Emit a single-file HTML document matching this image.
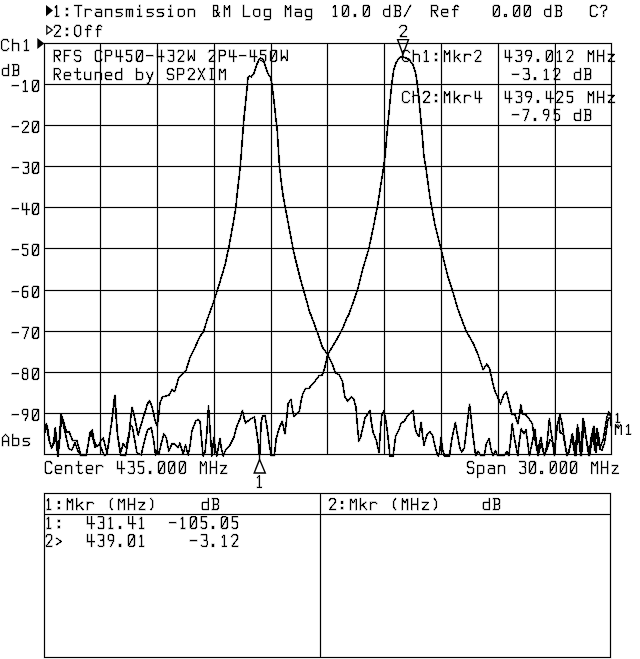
<!DOCTYPE html>
<html><head><meta charset="utf-8"><title>Network analyzer plot</title>
<style>html,body{margin:0;padding:0;background:#fff;font-family:"Liberation Sans",sans-serif}svg{display:block}</style></head>
<body>
<svg width="640" height="659" viewBox="0 0 640 659">
<rect width="640" height="659" fill="#fff"/>
<path d="M44.50,43.50 V454.50M100.50,43.50 V454.50M157.50,43.50 V454.50M214.50,43.50 V454.50M271.50,43.50 V454.50M327.50,43.50 V454.50M384.50,43.50 V454.50M441.50,43.50 V454.50M498.50,43.50 V454.50M555.00,43.50 V454.50M611.50,43.50 V454.50M44.50,43.50 H611.50M44.50,84.50 H611.50M44.50,125.50 H611.50M44.50,166.50 H611.50M44.50,207.50 H611.50M44.50,248.50 H611.50M44.50,290.50 H611.50M44.50,331.50 H611.50M44.50,372.50 H611.50M44.50,413.50 H611.50M44.50,454.50 H611.50" fill="none" stroke="#000" stroke-opacity="0.18" stroke-width="2.2" stroke-linecap="square"/>
<path d="M44.50,43.50 V454.50M100.50,43.50 V454.50M157.50,43.50 V454.50M214.50,43.50 V454.50M271.50,43.50 V454.50M327.50,43.50 V454.50M384.50,43.50 V454.50M441.50,43.50 V454.50M498.50,43.50 V454.50M555.00,43.50 V454.50M611.50,43.50 V454.50M44.50,43.50 H611.50M44.50,84.50 H611.50M44.50,125.50 H611.50M44.50,166.50 H611.50M44.50,207.50 H611.50M44.50,248.50 H611.50M44.50,290.50 H611.50M44.50,331.50 H611.50M44.50,372.50 H611.50M44.50,413.50 H611.50M44.50,454.50 H611.50" fill="none" stroke="#000" stroke-width="1" stroke-linecap="square" shape-rendering="crispEdges"/>
<path d="M44.5,493.5 H610.5 V657.5 H44.5 Z M44.5,514.5 H610.5 M320.5,493.5 V657.5" fill="none" stroke="#000" stroke-opacity="0.18" stroke-width="2.2"/>
<path d="M44.5,493.5 H610.5 V657.5 H44.5 Z M44.5,514.5 H610.5 M320.5,493.5 V657.5" fill="none" stroke="#000" stroke-width="1" shape-rendering="crispEdges"/>
<path d="M44.8,432.5 L46.2,423.8 L47.5,427.5 L50.0,443.8 L51.9,446.9 L53.8,441.2 L55.2,428.0 L56.2,441.2 L57.9,456.0 L59.4,438.8 L61.0,414.4 L63.1,420.0 L65.6,428.8 L66.5,432.0 L69.4,432.0 L72.5,440.6 L76.9,440.6 L78.8,447.5 L80.6,454.4 L86.2,455.0 L88.1,445.0 L90.0,432.5 L92.2,430.0 L93.8,438.8 L95.6,445.0 L98.8,445.6 L101.2,440.0 L103.1,438.0 L105.0,445.0 L106.9,452.5 L108.1,447.5 L111.9,420.0 L115.0,395.6 L117.5,435.0 L120.6,455.0 L125.6,455.6 L128.8,437.5 L130.6,418.8 L132.2,407.5 L134.4,416.2 L138.1,435.0 L142.5,420.0 L147.5,403.8 L149.4,400.6 L151.9,406.2 L155.0,420.0 L157.2,426.2 L158.8,415.0 L160.0,402.5 L162.5,396.9 L168.8,395.3 L172.2,389.4 L174.7,391.6 L178.8,377.5 L182.5,373.8 L186.2,370.0 L190.0,357.5 L195.0,347.5 L200.0,336.2 L203.2,332.5 L207.5,318.8 L212.5,305.0 L217.5,290.0 L225.0,265.0 L228.8,247.5 L233.8,220.0 L236.0,206.2 L237.0,195.0 L238.8,180.0 L240.3,166.3 L243.8,120.0 L245.6,102.5 L247.5,83.8 L247.9,77.5 L249.4,76.2 L251.2,76.9 L253.8,73.8 L256.2,66.2 L258.8,60.0 L260.6,58.1 L262.5,58.8 L263.8,61.2 L266.2,68.8 L268.1,73.8 L270.6,77.5 L271.9,83.8 L273.1,93.8 L275.0,110.0 L276.0,120.0 L277.2,130.0 L279.5,166.3 L281.0,180.0 L283.0,195.0 L285.0,206.2 L290.0,232.5 L293.8,252.5 L300.0,277.5 L305.0,295.0 L309.8,312.5 L311.2,315.6 L317.5,332.8 L322.2,346.9 L327.7,354.7 L331.6,362.5 L335.5,372.7 L339.4,375.0 L342.5,381.2 L344.0,392.2 L345.0,396.9 L347.8,401.2 L351.2,396.9 L353.8,398.8 L356.0,407.5 L356.9,420.0 L358.8,441.2 L360.6,437.5 L365.0,418.1 L370.0,410.6 L371.2,421.2 L373.1,432.5 L376.2,440.0 L379.0,452.5 L380.6,427.5 L381.9,415.0 L383.8,411.2 L385.6,418.8 L387.5,432.5 L390.0,456.0 L393.1,456.0 L395.6,436.2 L398.8,430.0 L401.2,423.1 L404.4,421.2 L407.5,415.6 L413.1,410.6 L415.0,427.5 L416.9,433.8 L419.0,436.0 L421.2,422.5 L422.5,435.0 L424.0,445.0 L426.9,435.0 L430.0,431.9 L432.5,435.0 L435.6,448.8 L438.1,456.0 L439.8,451.2 L441.0,437.5 L442.5,448.8 L444.4,456.0 L449.4,456.0 L451.9,438.8 L455.4,422.5 L457.5,435.0 L460.0,448.8 L461.9,451.9 L464.4,447.5 L466.9,426.2 L469.6,404.4 L471.2,418.8 L473.1,436.2 L475.6,455.6 L478.1,451.2 L480.6,455.6 L484.4,455.6 L486.2,443.8 L489.1,438.8 L491.2,450.0 L493.1,455.6 L495.4,450.6 L497.5,455.6 L503.8,455.6 L506.9,451.9 L508.8,455.6 L510.6,441.2 L512.2,423.8 L513.8,435.0 L517.8,455.6 L519.4,441.2 L521.2,428.8 L524.0,433.8 L526.0,430.0 L527.5,441.2 L529.4,455.6 L531.9,443.8 L535.0,429.4 L536.2,441.2 L538.1,455.6 L541.0,443.8 L544.4,455.6 L547.5,447.5 L550.0,440.0 L552.5,441.2 L554.4,455.6 L556.2,428.8 L558.8,418.8 L560.0,432.5 L563.1,433.8 L566.9,455.6 L570.0,447.5 L571.9,435.0 L573.5,447.0 L575.0,455.6 L577.5,425.0 L580.6,455.6 L583.1,418.8 L585.6,435.0 L588.8,455.6 L591.2,437.5 L593.8,426.2 L594.4,450.0 L596.9,428.8 L598.8,445.0 L600.6,446.2 L603.1,440.0 L606.9,417.5 L608.8,411.9 L610.6,420.0 L611.5,427.5M44.8,430.0 L46.5,425.0 L49.0,440.0 L51.5,448.0 L54.0,443.0 L55.5,430.0 L57.0,443.0 L58.0,456.0 L60.0,437.0 L61.5,417.0 L62.5,421.0 L68.8,448.8 L71.9,450.0 L75.0,442.5 L77.5,450.0 L80.6,455.6 L86.2,455.6 L89.4,437.5 L91.2,432.5 L95.0,447.0 L100.0,445.0 L101.9,450.0 L104.4,455.6 L106.9,454.4 L112.0,420.0 L114.5,397.0 L117.5,435.0 L120.6,453.0 L123.1,443.8 L126.0,447.5 L128.8,435.0 L130.6,425.0 L132.5,427.5 L136.9,452.5 L141.2,455.0 L144.4,441.2 L147.5,430.0 L151.2,427.5 L153.8,441.2 L155.6,455.0 L157.2,450.0 L158.8,454.4 L161.2,443.8 L163.8,433.8 L166.2,437.5 L168.8,451.2 L171.9,443.8 L174.4,443.8 L178.1,447.5 L180.0,443.1 L183.1,453.8 L185.6,445.0 L188.1,455.0 L190.0,446.2 L191.9,431.2 L195.6,421.2 L198.1,419.4 L200.0,421.2 L201.2,435.0 L203.1,456.0 L205.0,452.5 L206.9,432.5 L208.5,406.2 L210.0,428.8 L211.9,456.0 L213.8,437.5 L215.6,450.0 L216.9,456.0 L218.8,445.0 L220.0,438.8 L221.2,447.5 L223.1,456.0 L225.6,450.0 L230.0,445.0 L233.8,437.5 L236.9,426.2 L240.0,418.8 L242.5,410.6 L244.0,417.5 L245.6,423.1 L250.0,419.4 L254.4,416.9 L256.2,428.8 L258.1,441.2 L259.6,459.0 L261.2,422.5 L262.5,416.2 L265.0,415.6 L266.9,426.2 L270.0,448.8 L271.2,455.6 L274.4,455.6 L276.2,438.8 L279.4,427.5 L282.2,421.2 L285.0,433.8 L286.9,416.2 L288.1,403.8 L291.0,399.4 L292.5,410.0 L294.0,416.2 L299.4,411.2 L301.2,400.0 L303.1,393.1 L305.6,388.5 L308.9,388.3 L314.4,382.0 L319.0,375.8 L322.2,375.0 L324.5,368.8 L327.7,354.7 L332.3,346.9 L337.0,339.0 L342.5,328.9 L347.2,317.2 L348.8,314.8 L357.5,290.0 L362.5,270.0 L368.8,248.8 L373.8,225.0 L377.5,206.2 L381.2,182.5 L383.8,166.2 L385.2,155.0 L386.5,139.0 L389.7,105.0 L391.8,83.7 L393.5,71.0 L396.1,62.5 L399.3,57.8 L402.5,56.5 L408.8,59.3 L413.0,64.6 L415.6,73.0 L417.3,83.7 L420.5,115.5 L422.6,139.0 L423.8,155.0 L426.2,170.0 L430.0,197.5 L435.0,225.0 L441.2,250.0 L447.5,275.0 L453.8,295.0 L457.8,308.8 L466.2,331.2 L473.8,344.4 L478.4,355.6 L483.1,369.7 L486.9,364.0 L489.7,368.8 L492.5,381.9 L495.0,391.2 L500.6,403.8 L503.8,394.4 L506.5,391.9 L508.8,401.2 L511.9,414.4 L515.0,415.0 L517.8,423.8 L519.4,415.0 L520.9,405.0 L522.5,413.8 L526.2,415.0 L529.4,419.4 L532.5,423.8 L533.1,430.0 L535.0,440.0 L537.5,452.5 L539.4,443.8 L541.0,437.5 L542.5,447.5 L544.4,455.0 L546.9,445.0 L549.4,418.8 L550.6,428.8 L552.5,440.0 L554.4,455.0 L556.2,435.0 L558.1,421.2 L560.0,415.0 L561.9,422.5 L563.8,435.0 L566.9,455.0 L568.8,452.5 L572.5,434.0 L575.8,455.6 L578.3,428.0 L581.5,455.6 L584.0,422.0 L586.5,440.0 L589.5,455.6 L592.0,441.0 L594.5,429.0 L596.0,452.0 L598.3,433.0 L600.0,449.0 L602.0,450.0 L604.5,443.0 L607.8,421.0 L609.5,413.0 L610.9,419.0 L611.5,426.0" fill="none" stroke="#000" stroke-opacity="0.2" stroke-width="2.6" stroke-linejoin="round"/>
<path d="M44.8,432.5 L46.2,423.8 L47.5,427.5 L50.0,443.8 L51.9,446.9 L53.8,441.2 L55.2,428.0 L56.2,441.2 L57.9,456.0 L59.4,438.8 L61.0,414.4 L63.1,420.0 L65.6,428.8 L66.5,432.0 L69.4,432.0 L72.5,440.6 L76.9,440.6 L78.8,447.5 L80.6,454.4 L86.2,455.0 L88.1,445.0 L90.0,432.5 L92.2,430.0 L93.8,438.8 L95.6,445.0 L98.8,445.6 L101.2,440.0 L103.1,438.0 L105.0,445.0 L106.9,452.5 L108.1,447.5 L111.9,420.0 L115.0,395.6 L117.5,435.0 L120.6,455.0 L125.6,455.6 L128.8,437.5 L130.6,418.8 L132.2,407.5 L134.4,416.2 L138.1,435.0 L142.5,420.0 L147.5,403.8 L149.4,400.6 L151.9,406.2 L155.0,420.0 L157.2,426.2 L158.8,415.0 L160.0,402.5 L162.5,396.9 L168.8,395.3 L172.2,389.4 L174.7,391.6 L178.8,377.5 L182.5,373.8 L186.2,370.0 L190.0,357.5 L195.0,347.5 L200.0,336.2 L203.2,332.5 L207.5,318.8 L212.5,305.0 L217.5,290.0 L225.0,265.0 L228.8,247.5 L233.8,220.0 L236.0,206.2 L237.0,195.0 L238.8,180.0 L240.3,166.3 L243.8,120.0 L245.6,102.5 L247.5,83.8 L247.9,77.5 L249.4,76.2 L251.2,76.9 L253.8,73.8 L256.2,66.2 L258.8,60.0 L260.6,58.1 L262.5,58.8 L263.8,61.2 L266.2,68.8 L268.1,73.8 L270.6,77.5 L271.9,83.8 L273.1,93.8 L275.0,110.0 L276.0,120.0 L277.2,130.0 L279.5,166.3 L281.0,180.0 L283.0,195.0 L285.0,206.2 L290.0,232.5 L293.8,252.5 L300.0,277.5 L305.0,295.0 L309.8,312.5 L311.2,315.6 L317.5,332.8 L322.2,346.9 L327.7,354.7 L331.6,362.5 L335.5,372.7 L339.4,375.0 L342.5,381.2 L344.0,392.2 L345.0,396.9 L347.8,401.2 L351.2,396.9 L353.8,398.8 L356.0,407.5 L356.9,420.0 L358.8,441.2 L360.6,437.5 L365.0,418.1 L370.0,410.6 L371.2,421.2 L373.1,432.5 L376.2,440.0 L379.0,452.5 L380.6,427.5 L381.9,415.0 L383.8,411.2 L385.6,418.8 L387.5,432.5 L390.0,456.0 L393.1,456.0 L395.6,436.2 L398.8,430.0 L401.2,423.1 L404.4,421.2 L407.5,415.6 L413.1,410.6 L415.0,427.5 L416.9,433.8 L419.0,436.0 L421.2,422.5 L422.5,435.0 L424.0,445.0 L426.9,435.0 L430.0,431.9 L432.5,435.0 L435.6,448.8 L438.1,456.0 L439.8,451.2 L441.0,437.5 L442.5,448.8 L444.4,456.0 L449.4,456.0 L451.9,438.8 L455.4,422.5 L457.5,435.0 L460.0,448.8 L461.9,451.9 L464.4,447.5 L466.9,426.2 L469.6,404.4 L471.2,418.8 L473.1,436.2 L475.6,455.6 L478.1,451.2 L480.6,455.6 L484.4,455.6 L486.2,443.8 L489.1,438.8 L491.2,450.0 L493.1,455.6 L495.4,450.6 L497.5,455.6 L503.8,455.6 L506.9,451.9 L508.8,455.6 L510.6,441.2 L512.2,423.8 L513.8,435.0 L517.8,455.6 L519.4,441.2 L521.2,428.8 L524.0,433.8 L526.0,430.0 L527.5,441.2 L529.4,455.6 L531.9,443.8 L535.0,429.4 L536.2,441.2 L538.1,455.6 L541.0,443.8 L544.4,455.6 L547.5,447.5 L550.0,440.0 L552.5,441.2 L554.4,455.6 L556.2,428.8 L558.8,418.8 L560.0,432.5 L563.1,433.8 L566.9,455.6 L570.0,447.5 L571.9,435.0 L573.5,447.0 L575.0,455.6 L577.5,425.0 L580.6,455.6 L583.1,418.8 L585.6,435.0 L588.8,455.6 L591.2,437.5 L593.8,426.2 L594.4,450.0 L596.9,428.8 L598.8,445.0 L600.6,446.2 L603.1,440.0 L606.9,417.5 L608.8,411.9 L610.6,420.0 L611.5,427.5" fill="none" stroke="#000" stroke-width="1.5" stroke-linejoin="round" shape-rendering="crispEdges"/>
<path d="M44.8,430.0 L46.5,425.0 L49.0,440.0 L51.5,448.0 L54.0,443.0 L55.5,430.0 L57.0,443.0 L58.0,456.0 L60.0,437.0 L61.5,417.0 L62.5,421.0 L68.8,448.8 L71.9,450.0 L75.0,442.5 L77.5,450.0 L80.6,455.6 L86.2,455.6 L89.4,437.5 L91.2,432.5 L95.0,447.0 L100.0,445.0 L101.9,450.0 L104.4,455.6 L106.9,454.4 L112.0,420.0 L114.5,397.0 L117.5,435.0 L120.6,453.0 L123.1,443.8 L126.0,447.5 L128.8,435.0 L130.6,425.0 L132.5,427.5 L136.9,452.5 L141.2,455.0 L144.4,441.2 L147.5,430.0 L151.2,427.5 L153.8,441.2 L155.6,455.0 L157.2,450.0 L158.8,454.4 L161.2,443.8 L163.8,433.8 L166.2,437.5 L168.8,451.2 L171.9,443.8 L174.4,443.8 L178.1,447.5 L180.0,443.1 L183.1,453.8 L185.6,445.0 L188.1,455.0 L190.0,446.2 L191.9,431.2 L195.6,421.2 L198.1,419.4 L200.0,421.2 L201.2,435.0 L203.1,456.0 L205.0,452.5 L206.9,432.5 L208.5,406.2 L210.0,428.8 L211.9,456.0 L213.8,437.5 L215.6,450.0 L216.9,456.0 L218.8,445.0 L220.0,438.8 L221.2,447.5 L223.1,456.0 L225.6,450.0 L230.0,445.0 L233.8,437.5 L236.9,426.2 L240.0,418.8 L242.5,410.6 L244.0,417.5 L245.6,423.1 L250.0,419.4 L254.4,416.9 L256.2,428.8 L258.1,441.2 L259.6,459.0 L261.2,422.5 L262.5,416.2 L265.0,415.6 L266.9,426.2 L270.0,448.8 L271.2,455.6 L274.4,455.6 L276.2,438.8 L279.4,427.5 L282.2,421.2 L285.0,433.8 L286.9,416.2 L288.1,403.8 L291.0,399.4 L292.5,410.0 L294.0,416.2 L299.4,411.2 L301.2,400.0 L303.1,393.1 L305.6,388.5 L308.9,388.3 L314.4,382.0 L319.0,375.8 L322.2,375.0 L324.5,368.8 L327.7,354.7 L332.3,346.9 L337.0,339.0 L342.5,328.9 L347.2,317.2 L348.8,314.8 L357.5,290.0 L362.5,270.0 L368.8,248.8 L373.8,225.0 L377.5,206.2 L381.2,182.5 L383.8,166.2 L385.2,155.0 L386.5,139.0 L389.7,105.0 L391.8,83.7 L393.5,71.0 L396.1,62.5 L399.3,57.8 L402.5,56.5 L408.8,59.3 L413.0,64.6 L415.6,73.0 L417.3,83.7 L420.5,115.5 L422.6,139.0 L423.8,155.0 L426.2,170.0 L430.0,197.5 L435.0,225.0 L441.2,250.0 L447.5,275.0 L453.8,295.0 L457.8,308.8 L466.2,331.2 L473.8,344.4 L478.4,355.6 L483.1,369.7 L486.9,364.0 L489.7,368.8 L492.5,381.9 L495.0,391.2 L500.6,403.8 L503.8,394.4 L506.5,391.9 L508.8,401.2 L511.9,414.4 L515.0,415.0 L517.8,423.8 L519.4,415.0 L520.9,405.0 L522.5,413.8 L526.2,415.0 L529.4,419.4 L532.5,423.8 L533.1,430.0 L535.0,440.0 L537.5,452.5 L539.4,443.8 L541.0,437.5 L542.5,447.5 L544.4,455.0 L546.9,445.0 L549.4,418.8 L550.6,428.8 L552.5,440.0 L554.4,455.0 L556.2,435.0 L558.1,421.2 L560.0,415.0 L561.9,422.5 L563.8,435.0 L566.9,455.0 L568.8,452.5 L572.5,434.0 L575.8,455.6 L578.3,428.0 L581.5,455.6 L584.0,422.0 L586.5,440.0 L589.5,455.6 L592.0,441.0 L594.5,429.0 L596.0,452.0 L598.3,433.0 L600.0,449.0 L602.0,450.0 L604.5,443.0 L607.8,421.0 L609.5,413.0 L610.9,419.0 L611.5,426.0" fill="none" stroke="#000" stroke-width="1.5" stroke-linejoin="round" shape-rendering="crispEdges"/>
<path d="M46,5 L53,10.6 L46,16.2 Z" fill="#000"/>
<path d="M46.8,26 L52.3,30 L46.8,34 Z" fill="none" stroke="#000" stroke-width="1.2"/>
<path d="M37.3,37.9 L44.3,43.4 L37.3,49 Z" fill="#000"/>
<path d="M397.6,39.6 H408.5 L403,54.4 Z" fill="none" stroke="#000" stroke-width="1.4"/>
<path d="M259.6,459.4 L265.3,473 H254.2 Z" fill="none" stroke="#000" stroke-width="1.4"/>
<circle cx="608.8" cy="416.5" r="1.5" fill="#fff" stroke="#000" stroke-width="1"/>
<circle cx="617.6" cy="426.2" r="1.4" fill="#fff" stroke="#000" stroke-width="1"/>
<path d="M55.28,7.42 L56.96,5.50 L56.96,16.30M55.28,16.30 L58.88,16.30M66.32,15.58 L67.52,15.58 L67.52,14.38 L66.32,14.38ZM66.32,9.82 L67.52,9.82 L67.52,8.62 L66.32,8.62ZM74.84,5.50 L81.44,5.50M78.14,5.50 L78.14,16.30M85.16,9.10 L85.16,16.30M85.16,10.90 L86.96,9.10 L89.96,9.10 L91.16,10.30M96.08,9.10 L100.28,9.10 L101.48,10.30 L101.48,16.30M101.48,12.10 L96.68,12.10 L95.48,13.30 L95.48,15.10 L96.68,16.30 L101.48,16.30M105.80,9.10 L105.80,16.30M105.80,10.30 L107.00,9.10 L110.60,9.10 L111.80,10.30 L111.80,16.30M122.12,9.10 L117.32,9.10 L116.12,10.30 L116.12,11.50 L117.32,12.70 L120.92,12.70 L122.12,13.90 L122.12,15.10 L120.92,16.30 L116.12,16.30M126.44,9.10 L126.44,16.30M126.44,9.70 L127.04,9.10 L128.84,9.10 L129.44,9.70 L129.44,16.30M129.44,9.70 L130.04,9.10 L131.84,9.10 L132.44,9.70 L132.44,16.30M139.76,6.46 L139.76,5.50M137.96,9.10 L139.76,9.10 L139.76,16.30M137.96,16.30 L141.56,16.30M153.08,9.10 L148.28,9.10 L147.08,10.30 L147.08,11.50 L148.28,12.70 L151.88,12.70 L153.08,13.90 L153.08,15.10 L151.88,16.30 L147.08,16.30M163.40,9.10 L158.60,9.10 L157.40,10.30 L157.40,11.50 L158.60,12.70 L162.20,12.70 L163.40,13.90 L163.40,15.10 L162.20,16.30 L157.40,16.30M170.72,6.46 L170.72,5.50M168.92,9.10 L170.72,9.10 L170.72,16.30M168.92,16.30 L172.52,16.30M179.24,16.30 L182.84,16.30 L184.04,15.10 L184.04,10.30 L182.84,9.10 L179.24,9.10 L178.04,10.30 L178.04,15.10ZM188.36,9.10 L188.36,16.30M188.36,10.30 L189.56,9.10 L193.16,9.10 L194.36,10.30 L194.36,16.30M213.76,16.30 L213.76,5.50 L217.00,5.50 L217.96,6.70 L217.96,9.34 L217.00,10.30 L213.76,10.30M213.76,16.30 L216.40,16.30 L219.16,12.70M216.04,10.78 L219.16,16.30M224.20,16.30 L224.20,5.50 L226.96,9.70 L229.72,5.50 L229.72,16.30M243.60,5.50 L243.60,16.30 L249.60,16.30M255.12,16.30 L258.72,16.30 L259.92,15.10 L259.92,10.30 L258.72,9.10 L255.12,9.10 L253.92,10.30 L253.92,15.10ZM270.24,9.10 L265.44,9.10 L264.24,10.30 L264.24,15.10 L265.44,16.30 L270.24,16.30M270.24,9.10 L270.24,18.70 L269.04,19.90 L264.84,19.90M285.36,16.30 L285.36,5.50 L288.12,9.70 L290.88,5.50 L290.88,16.30M295.80,9.10 L300.00,9.10 L301.20,10.30 L301.20,16.30M301.20,12.10 L296.40,12.10 L295.20,13.30 L295.20,15.10 L296.40,16.30 L301.20,16.30M311.52,9.10 L306.72,9.10 L305.52,10.30 L305.52,15.10 L306.72,16.30 L311.52,16.30M311.52,9.10 L311.52,18.70 L310.32,19.90 L306.12,19.90M333.38,7.42 L335.06,5.50 L335.06,16.30M333.38,16.30 L336.98,16.30M343.58,16.30 L347.42,16.30 L348.50,15.22 L348.50,6.58 L347.42,5.50 L343.58,5.50 L342.50,6.58 L342.50,15.22ZM342.74,15.70 L348.26,6.10M354.02,16.18 L355.46,16.18 L355.46,14.74 L354.02,14.74ZM364.22,16.30 L368.06,16.30 L369.14,15.22 L369.14,6.58 L368.06,5.50 L364.22,5.50 L363.14,6.58 L363.14,15.22ZM363.38,15.70 L368.90,6.10M389.90,5.50 L389.90,16.30 L385.10,16.30 L383.90,15.10 L383.90,10.30 L385.10,9.10 L389.90,9.10M394.22,16.30 L399.02,16.30 L400.22,15.10 L400.22,12.10 L399.02,10.90 L400.22,9.70 L400.22,6.70 L399.02,5.50 L394.22,5.50M395.42,16.30 L395.42,5.50M395.42,10.90 L399.02,10.90M404.54,16.30 L410.54,5.50M431.60,16.30 L431.60,5.50 L436.40,5.50 L437.60,6.70 L437.60,9.70 L436.40,10.90 L431.60,10.90M434.00,10.90 L437.60,16.30M441.92,12.70 L447.92,12.70 L447.92,10.30 L446.72,9.10 L443.12,9.10 L441.92,10.30 L441.92,15.10 L443.12,16.30 L447.32,16.30M458.24,6.70 L457.04,5.50 L455.84,5.50 L454.64,6.70 L454.64,16.30M452.84,9.70 L457.64,9.70M494.26,16.30 L498.10,16.30 L499.18,15.22 L499.18,6.58 L498.10,5.50 L494.26,5.50 L493.18,6.58 L493.18,15.22ZM493.42,15.70 L498.94,6.10M504.70,16.18 L506.14,16.18 L506.14,14.74 L504.70,14.74ZM514.90,16.30 L518.74,16.30 L519.82,15.22 L519.82,6.58 L518.74,5.50 L514.90,5.50 L513.82,6.58 L513.82,15.22ZM514.06,15.70 L519.58,6.10M525.22,16.30 L529.06,16.30 L530.14,15.22 L530.14,6.58 L529.06,5.50 L525.22,5.50 L524.14,6.58 L524.14,15.22ZM524.38,15.70 L529.90,6.10M550.90,5.50 L550.90,16.30 L546.10,16.30 L544.90,15.10 L544.90,10.30 L546.10,9.10 L550.90,9.10M555.22,16.30 L560.02,16.30 L561.22,15.10 L561.22,12.10 L560.02,10.90 L561.22,9.70 L561.22,6.70 L560.02,5.50 L555.22,5.50M556.42,16.30 L556.42,5.50M556.42,10.90 L560.02,10.90M597.00,7.30 L595.56,5.50 L591.84,5.50 L590.40,6.94 L590.40,14.86 L591.84,16.30 L595.56,16.30 L597.00,14.50M600.72,7.30 L601.92,5.50 L605.52,5.50 L606.72,6.70 L606.72,9.10 L603.72,11.50 L603.72,13.30M603.72,15.22 L603.72,16.30M54.20,27.10 L55.40,25.30 L58.88,25.30 L60.08,26.50 L60.08,28.90 L54.20,36.10 L60.08,36.10M66.32,35.38 L67.52,35.38 L67.52,34.18 L66.32,34.18ZM66.32,29.62 L67.52,29.62 L67.52,28.42 L66.32,28.42ZM76.64,36.10 L79.04,36.10 L80.84,34.30 L80.84,27.10 L79.04,25.30 L76.64,25.30 L74.84,27.10 L74.84,34.30ZM91.16,26.50 L89.96,25.30 L88.76,25.30 L87.56,26.50 L87.56,36.10M85.76,29.50 L90.56,29.50M101.48,26.50 L100.28,25.30 L99.08,25.30 L97.88,26.50 L97.88,36.10M96.08,29.50 L100.88,29.50M8.40,41.40 L6.96,39.60 L3.24,39.60 L1.80,41.04 L1.80,48.96 L3.24,50.40 L6.96,50.40 L8.40,48.60M12.70,39.60 L12.70,50.40M12.70,44.40 L13.90,43.20 L17.50,43.20 L18.70,44.40 L18.70,50.40M24.68,41.52 L26.36,39.60 L26.36,50.40M24.68,50.40 L28.28,50.40M8.40,64.70 L8.40,75.50 L3.60,75.50 L2.40,74.30 L2.40,69.50 L3.60,68.30 L8.40,68.30M12.72,75.50 L17.52,75.50 L18.72,74.30 L18.72,71.30 L17.52,70.10 L18.72,68.90 L18.72,65.90 L17.52,64.70 L12.72,64.70M13.92,75.50 L13.92,64.70M13.92,70.10 L17.52,70.10M12.00,85.70 L18.00,85.70M23.40,82.22 L25.08,80.30 L25.08,91.10M23.40,91.10 L27.00,91.10M33.60,91.10 L37.44,91.10 L38.52,90.02 L38.52,81.38 L37.44,80.30 L33.60,80.30 L32.52,81.38 L32.52,90.02ZM32.76,90.50 L38.28,80.90M12.00,126.70 L18.00,126.70M22.32,123.10 L23.52,121.30 L27.00,121.30 L28.20,122.50 L28.20,124.90 L22.32,132.10 L28.20,132.10M33.60,132.10 L37.44,132.10 L38.52,131.02 L38.52,122.38 L37.44,121.30 L33.60,121.30 L32.52,122.38 L32.52,131.02ZM32.76,131.50 L38.28,121.90M12.00,167.70 L18.00,167.70M23.04,162.30 L27.72,162.30 L28.32,162.90 L28.32,166.14 L27.36,167.22 L28.56,168.30 L28.56,172.14 L27.72,173.10 L23.76,173.10 L23.16,172.38M27.36,167.22 L25.68,167.22M33.60,173.10 L37.44,173.10 L38.52,172.02 L38.52,163.38 L37.44,162.30 L33.60,162.30 L32.52,163.38 L32.52,172.02ZM32.76,172.50 L38.28,162.90M12.00,208.70 L18.00,208.70M22.56,203.30 L22.56,209.90 L29.04,209.90M26.64,203.30 L26.64,214.10M33.60,214.10 L37.44,214.10 L38.52,213.02 L38.52,204.38 L37.44,203.30 L33.60,203.30 L32.52,204.38 L32.52,213.02ZM32.76,213.50 L38.28,203.90M12.00,249.70 L18.00,249.70M27.84,244.30 L22.80,244.30 L22.80,248.74 L26.64,248.74 L27.84,249.82 L27.84,253.90 L26.64,255.10 L23.76,255.10 L22.68,254.14M33.60,255.10 L37.44,255.10 L38.52,254.02 L38.52,245.38 L37.44,244.30 L33.60,244.30 L32.52,245.38 L32.52,254.02ZM32.76,254.50 L38.28,244.90M12.00,291.70 L18.00,291.70M27.84,286.30 L24.12,286.30 L22.56,288.10 L22.56,295.90 L23.76,297.10 L26.64,297.10 L27.84,295.90 L27.84,292.30 L26.64,291.10 L22.56,291.10M33.60,297.10 L37.44,297.10 L38.52,296.02 L38.52,287.38 L37.44,286.30 L33.60,286.30 L32.52,287.38 L32.52,296.02ZM32.76,296.50 L38.28,286.90M12.00,332.70 L18.00,332.70M22.56,327.30 L28.08,327.30 L28.08,328.50 L24.48,338.10M33.60,338.10 L37.44,338.10 L38.52,337.02 L38.52,328.38 L37.44,327.30 L33.60,327.30 L32.52,328.38 L32.52,337.02ZM32.76,337.50 L38.28,327.90M12.00,373.70 L18.00,373.70M23.76,379.10 L26.64,379.10 L27.84,377.90 L27.84,374.30 L26.64,373.22 L23.76,373.22 L22.56,374.30 L22.56,377.90ZM23.76,373.22 L22.80,372.26 L22.80,369.38 L23.88,368.30 L26.52,368.30 L27.60,369.38 L27.60,372.26 L26.64,373.22M33.60,379.10 L37.44,379.10 L38.52,378.02 L38.52,369.38 L37.44,368.30 L33.60,368.30 L32.52,369.38 L32.52,378.02ZM32.76,378.50 L38.28,368.90M12.00,414.70 L18.00,414.70M27.84,414.58 L23.76,414.58 L22.56,413.50 L22.56,410.50 L23.76,409.30 L26.64,409.30 L27.84,410.50 L27.84,415.30 L25.20,420.10M33.60,420.10 L37.44,420.10 L38.52,419.02 L38.52,410.38 L37.44,409.30 L33.60,409.30 L32.52,410.38 L32.52,419.02ZM32.76,419.50 L38.28,409.90M2.60,445.40 L2.60,437.60 L5.60,434.60 L8.60,437.60 L8.60,445.40M2.60,441.20 L8.60,441.20M12.92,434.60 L12.92,445.40 L17.72,445.40 L18.92,444.20 L18.92,439.40 L17.72,438.20 L12.92,438.20M29.24,438.20 L24.44,438.20 L23.24,439.40 L23.24,440.60 L24.44,441.80 L28.04,441.80 L29.24,443.00 L29.24,444.20 L28.04,445.40 L23.24,445.40M54.00,61.10 L54.00,50.30 L58.80,50.30 L60.00,51.50 L60.00,54.50 L58.80,55.70 L54.00,55.70M56.40,55.70 L60.00,61.10M64.32,61.10 L64.32,50.30 L70.32,50.30M64.32,55.70 L68.52,55.70M80.64,51.50 L79.44,50.30 L75.84,50.30 L74.64,51.50 L74.64,54.50 L75.84,55.70 L79.44,55.70 L80.64,56.90 L80.64,59.90 L79.44,61.10 L75.84,61.10 L74.64,59.90M101.88,52.10 L100.44,50.30 L96.72,50.30 L95.28,51.74 L95.28,59.66 L96.72,61.10 L100.44,61.10 L101.88,59.30M105.60,61.10 L105.60,50.30 L110.40,50.30 L111.60,51.50 L111.60,54.50 L110.40,55.70 L105.60,55.70M116.16,50.30 L116.16,56.90 L122.64,56.90M120.24,50.30 L120.24,61.10M131.76,50.30 L126.72,50.30 L126.72,54.74 L130.56,54.74 L131.76,55.82 L131.76,59.90 L130.56,61.10 L127.68,61.10 L126.60,60.14M137.52,61.10 L141.36,61.10 L142.44,60.02 L142.44,51.38 L141.36,50.30 L137.52,50.30 L136.44,51.38 L136.44,60.02ZM136.68,60.50 L142.20,50.90M146.88,55.70 L152.88,55.70M157.44,50.30 L157.44,56.90 L163.92,56.90M161.52,50.30 L161.52,61.10M168.24,50.30 L172.92,50.30 L173.52,50.90 L173.52,54.14 L172.56,55.22 L173.76,56.30 L173.76,60.14 L172.92,61.10 L168.96,61.10 L168.36,60.38M172.56,55.22 L170.88,55.22M177.84,52.10 L179.04,50.30 L182.52,50.30 L183.72,51.50 L183.72,53.90 L177.84,61.10 L183.72,61.10M188.16,50.30 L188.16,61.10 L191.16,55.70 L194.16,61.10 L194.16,50.30M208.80,52.10 L210.00,50.30 L213.48,50.30 L214.68,51.50 L214.68,53.90 L208.80,61.10 L214.68,61.10M219.12,61.10 L219.12,50.30 L223.92,50.30 L225.12,51.50 L225.12,54.50 L223.92,55.70 L219.12,55.70M229.68,50.30 L229.68,56.90 L236.16,56.90M233.76,50.30 L233.76,61.10M239.76,55.70 L245.76,55.70M250.32,50.30 L250.32,56.90 L256.80,56.90M254.40,50.30 L254.40,61.10M265.92,50.30 L260.88,50.30 L260.88,54.74 L264.72,54.74 L265.92,55.82 L265.92,59.90 L264.72,61.10 L261.84,61.10 L260.76,60.14M271.68,61.10 L275.52,61.10 L276.60,60.02 L276.60,51.38 L275.52,50.30 L271.68,50.30 L270.60,51.38 L270.60,60.02ZM270.84,60.50 L276.36,50.90M281.04,50.30 L281.04,61.10 L284.04,55.70 L287.04,61.10 L287.04,50.30M54.00,79.50 L54.00,68.70 L58.80,68.70 L60.00,69.90 L60.00,72.90 L58.80,74.10 L54.00,74.10M56.40,74.10 L60.00,79.50M64.32,75.90 L70.32,75.90 L70.32,73.50 L69.12,72.30 L65.52,72.30 L64.32,73.50 L64.32,78.30 L65.52,79.50 L69.72,79.50M77.04,68.70 L77.04,78.30 L78.24,79.50 L80.04,79.50 L80.64,78.90M74.64,72.30 L80.04,72.30M84.96,72.30 L84.96,78.30 L86.16,79.50 L89.76,79.50 L90.96,78.30M90.96,72.30 L90.96,79.50M95.28,72.30 L95.28,79.50M95.28,73.50 L96.48,72.30 L100.08,72.30 L101.28,73.50 L101.28,79.50M105.60,75.90 L111.60,75.90 L111.60,73.50 L110.40,72.30 L106.80,72.30 L105.60,73.50 L105.60,78.30 L106.80,79.50 L111.00,79.50M121.92,68.70 L121.92,79.50 L117.12,79.50 L115.92,78.30 L115.92,73.50 L117.12,72.30 L121.92,72.30M136.56,68.70 L136.56,79.50 L141.36,79.50 L142.56,78.30 L142.56,73.50 L141.36,72.30 L136.56,72.30M146.88,72.30 L149.88,79.50M152.88,72.30 L148.68,83.10 L147.48,83.10M173.52,69.90 L172.32,68.70 L168.72,68.70 L167.52,69.90 L167.52,72.90 L168.72,74.10 L172.32,74.10 L173.52,75.30 L173.52,78.30 L172.32,79.50 L168.72,79.50 L167.52,78.30M177.84,79.50 L177.84,68.70 L182.64,68.70 L183.84,69.90 L183.84,72.90 L182.64,74.10 L177.84,74.10M188.16,70.50 L189.36,68.70 L192.84,68.70 L194.04,69.90 L194.04,72.30 L188.16,79.50 L194.04,79.50M198.48,68.70 L204.48,79.50M198.48,79.50 L204.48,68.70M210.00,68.70 L213.60,68.70M211.80,68.70 L211.80,79.50M210.00,79.50 L213.60,79.50M219.60,79.50 L219.60,68.70 L222.36,72.90 L225.12,68.70 L225.12,79.50M409.30,52.30 L407.86,50.50 L404.14,50.50 L402.70,51.94 L402.70,59.86 L404.14,61.30 L407.86,61.30 L409.30,59.50M413.02,50.50 L413.02,61.30M413.02,55.30 L414.22,54.10 L417.82,54.10 L419.02,55.30 L419.02,61.30M424.42,52.42 L426.10,50.50 L426.10,61.30M424.42,61.30 L428.02,61.30M435.46,60.58 L436.66,60.58 L436.66,59.38 L435.46,59.38ZM435.46,54.82 L436.66,54.82 L436.66,53.62 L435.46,53.62ZM444.46,61.30 L444.46,50.50 L447.22,54.70 L449.98,50.50 L449.98,61.30M454.30,50.50 L454.30,61.30M459.70,54.10 L454.30,58.30M456.46,56.62 L460.30,61.30M464.62,54.10 L464.62,61.30M464.62,55.90 L466.42,54.10 L469.42,54.10 L470.62,55.30M474.94,52.30 L476.14,50.50 L479.62,50.50 L480.82,51.70 L480.82,54.10 L474.94,61.30 L480.82,61.30M505.24,50.50 L505.24,57.10 L511.72,57.10M509.32,50.50 L509.32,61.30M516.04,50.50 L520.72,50.50 L521.32,51.10 L521.32,54.34 L520.36,55.42 L521.56,56.50 L521.56,60.34 L520.72,61.30 L516.76,61.30 L516.16,60.58M520.36,55.42 L518.68,55.42M531.16,55.78 L527.08,55.78 L525.88,54.70 L525.88,51.70 L527.08,50.50 L529.96,50.50 L531.16,51.70 L531.16,56.50 L528.52,61.30M537.04,61.18 L538.48,61.18 L538.48,59.74 L537.04,59.74ZM547.24,61.30 L551.08,61.30 L552.16,60.22 L552.16,51.58 L551.08,50.50 L547.24,50.50 L546.16,51.58 L546.16,60.22ZM546.40,60.70 L551.92,51.10M557.68,52.42 L559.36,50.50 L559.36,61.30M557.68,61.30 L561.28,61.30M566.92,52.30 L568.12,50.50 L571.60,50.50 L572.80,51.70 L572.80,54.10 L566.92,61.30 L572.80,61.30M588.04,61.30 L588.04,50.50 L590.80,54.70 L593.56,50.50 L593.56,61.30M597.88,61.30 L597.88,50.50M603.88,61.30 L603.88,50.50M597.88,55.90 L603.88,55.90M608.20,54.10 L614.20,54.10 L608.20,61.30 L614.20,61.30M512.50,74.10 L518.50,74.10M523.54,68.70 L528.22,68.70 L528.82,69.30 L528.82,72.54 L527.86,73.62 L529.06,74.70 L529.06,78.54 L528.22,79.50 L524.26,79.50 L523.66,78.78M527.86,73.62 L526.18,73.62M534.22,79.38 L535.66,79.38 L535.66,77.94 L534.22,77.94ZM544.54,70.62 L546.22,68.70 L546.22,79.50M544.54,79.50 L548.14,79.50M553.78,70.50 L554.98,68.70 L558.46,68.70 L559.66,69.90 L559.66,72.30 L553.78,79.50 L559.66,79.50M580.42,68.70 L580.42,79.50 L575.62,79.50 L574.42,78.30 L574.42,73.50 L575.62,72.30 L580.42,72.30M584.74,79.50 L589.54,79.50 L590.74,78.30 L590.74,75.30 L589.54,74.10 L590.74,72.90 L590.74,69.90 L589.54,68.70 L584.74,68.70M585.94,79.50 L585.94,68.70M585.94,74.10 L589.54,74.10M409.30,93.40 L407.86,91.60 L404.14,91.60 L402.70,93.04 L402.70,100.96 L404.14,102.40 L407.86,102.40 L409.30,100.60M413.02,91.60 L413.02,102.40M413.02,96.40 L414.22,95.20 L417.82,95.20 L419.02,96.40 L419.02,102.40M423.34,93.40 L424.54,91.60 L428.02,91.60 L429.22,92.80 L429.22,95.20 L423.34,102.40 L429.22,102.40M435.46,101.68 L436.66,101.68 L436.66,100.48 L435.46,100.48ZM435.46,95.92 L436.66,95.92 L436.66,94.72 L435.46,94.72ZM444.46,102.40 L444.46,91.60 L447.22,95.80 L449.98,91.60 L449.98,102.40M454.30,91.60 L454.30,102.40M459.70,95.20 L454.30,99.40M456.46,97.72 L460.30,102.40M464.62,95.20 L464.62,102.40M464.62,97.00 L466.42,95.20 L469.42,95.20 L470.62,96.40M475.18,91.60 L475.18,98.20 L481.66,98.20M479.26,91.60 L479.26,102.40M505.24,91.60 L505.24,98.20 L511.72,98.20M509.32,91.60 L509.32,102.40M516.04,91.60 L520.72,91.60 L521.32,92.20 L521.32,95.44 L520.36,96.52 L521.56,97.60 L521.56,101.44 L520.72,102.40 L516.76,102.40 L516.16,101.68M520.36,96.52 L518.68,96.52M531.16,96.88 L527.08,96.88 L525.88,95.80 L525.88,92.80 L527.08,91.60 L529.96,91.60 L531.16,92.80 L531.16,97.60 L528.52,102.40M537.04,102.28 L538.48,102.28 L538.48,100.84 L537.04,100.84ZM546.52,91.60 L546.52,98.20 L553.00,98.20M550.60,91.60 L550.60,102.40M556.60,93.40 L557.80,91.60 L561.28,91.60 L562.48,92.80 L562.48,95.20 L556.60,102.40 L562.48,102.40M572.44,91.60 L567.40,91.60 L567.40,96.04 L571.24,96.04 L572.44,97.12 L572.44,101.20 L571.24,102.40 L568.36,102.40 L567.28,101.44M588.04,102.40 L588.04,91.60 L590.80,95.80 L593.56,91.60 L593.56,102.40M597.88,102.40 L597.88,91.60M603.88,102.40 L603.88,91.60M597.88,97.00 L603.88,97.00M608.20,95.20 L614.20,95.20 L608.20,102.40 L614.20,102.40M512.50,114.90 L518.50,114.90M523.06,109.50 L528.58,109.50 L528.58,110.70 L524.98,120.30M534.22,120.18 L535.66,120.18 L535.66,118.74 L534.22,118.74ZM548.98,114.78 L544.90,114.78 L543.70,113.70 L543.70,110.70 L544.90,109.50 L547.78,109.50 L548.98,110.70 L548.98,115.50 L546.34,120.30M559.30,109.50 L554.26,109.50 L554.26,113.94 L558.10,113.94 L559.30,115.02 L559.30,119.10 L558.10,120.30 L555.22,120.30 L554.14,119.34M580.42,109.50 L580.42,120.30 L575.62,120.30 L574.42,119.10 L574.42,114.30 L575.62,113.10 L580.42,113.10M584.74,120.30 L589.54,120.30 L590.74,119.10 L590.74,116.10 L589.54,114.90 L590.74,113.70 L590.74,110.70 L589.54,109.50 L584.74,109.50M585.94,120.30 L585.94,109.50M585.94,114.90 L589.54,114.90M51.80,463.55 L50.36,461.60 L46.64,461.60 L45.20,463.16 L45.20,471.74 L46.64,473.30 L50.36,473.30 L51.80,471.35M55.52,469.40 L61.52,469.40 L61.52,466.80 L60.32,465.50 L56.72,465.50 L55.52,466.80 L55.52,472.00 L56.72,473.30 L60.92,473.30M65.84,465.50 L65.84,473.30M65.84,466.80 L67.04,465.50 L70.64,465.50 L71.84,466.80 L71.84,473.30M78.56,461.60 L78.56,472.00 L79.76,473.30 L81.56,473.30 L82.16,472.65M76.16,465.50 L81.56,465.50M86.48,469.40 L92.48,469.40 L92.48,466.80 L91.28,465.50 L87.68,465.50 L86.48,466.80 L86.48,472.00 L87.68,473.30 L91.88,473.30M96.80,465.50 L96.80,473.30M96.80,467.45 L98.60,465.50 L101.60,465.50 L102.80,466.80M117.68,461.60 L117.68,468.75 L124.16,468.75M121.76,461.60 L121.76,473.30M128.48,461.60 L133.16,461.60 L133.76,462.25 L133.76,465.76 L132.80,466.93 L134.00,468.10 L134.00,472.26 L133.16,473.30 L129.20,473.30 L128.60,472.52M132.80,466.93 L131.12,466.93M143.60,461.60 L138.56,461.60 L138.56,466.41 L142.40,466.41 L143.60,467.58 L143.60,472.00 L142.40,473.30 L139.52,473.30 L138.44,472.26M149.48,473.17 L150.92,473.17 L150.92,471.61 L149.48,471.61ZM159.68,473.30 L163.52,473.30 L164.60,472.13 L164.60,462.77 L163.52,461.60 L159.68,461.60 L158.60,462.77 L158.60,472.13ZM158.84,472.65 L164.36,462.25M170.00,473.30 L173.84,473.30 L174.92,472.13 L174.92,462.77 L173.84,461.60 L170.00,461.60 L168.92,462.77 L168.92,472.13ZM169.16,472.65 L174.68,462.25M180.32,473.30 L184.16,473.30 L185.24,472.13 L185.24,462.77 L184.16,461.60 L180.32,461.60 L179.24,462.77 L179.24,472.13ZM179.48,472.65 L185.00,462.25M200.48,473.30 L200.48,461.60 L203.24,466.15 L206.00,461.60 L206.00,473.30M210.32,473.30 L210.32,461.60M216.32,473.30 L216.32,461.60M210.32,467.45 L216.32,467.45M220.64,465.50 L226.64,465.50 L220.64,473.30 L226.64,473.30M473.60,462.90 L472.40,461.60 L468.80,461.60 L467.60,462.90 L467.60,466.15 L468.80,467.45 L472.40,467.45 L473.60,468.75 L473.60,472.00 L472.40,473.30 L468.80,473.30 L467.60,472.00M477.92,465.50 L477.92,477.20M477.92,465.50 L482.72,465.50 L483.92,466.80 L483.92,472.00 L482.72,473.30 L477.92,473.30M488.84,465.50 L493.04,465.50 L494.24,466.80 L494.24,473.30M494.24,468.75 L489.44,468.75 L488.24,470.05 L488.24,472.00 L489.44,473.30 L494.24,473.30M498.56,465.50 L498.56,473.30M498.56,466.80 L499.76,465.50 L503.36,465.50 L504.56,466.80 L504.56,473.30M519.92,461.60 L524.60,461.60 L525.20,462.25 L525.20,465.76 L524.24,466.93 L525.44,468.10 L525.44,472.26 L524.60,473.30 L520.64,473.30 L520.04,472.52M524.24,466.93 L522.56,466.93M530.48,473.30 L534.32,473.30 L535.40,472.13 L535.40,462.77 L534.32,461.60 L530.48,461.60 L529.40,462.77 L529.40,472.13ZM529.64,472.65 L535.16,462.25M540.92,473.17 L542.36,473.17 L542.36,471.61 L540.92,471.61ZM551.12,473.30 L554.96,473.30 L556.04,472.13 L556.04,462.77 L554.96,461.60 L551.12,461.60 L550.04,462.77 L550.04,472.13ZM550.28,472.65 L555.80,462.25M561.44,473.30 L565.28,473.30 L566.36,472.13 L566.36,462.77 L565.28,461.60 L561.44,461.60 L560.36,462.77 L560.36,472.13ZM560.60,472.65 L566.12,462.25M571.76,473.30 L575.60,473.30 L576.68,472.13 L576.68,462.77 L575.60,461.60 L571.76,461.60 L570.68,462.77 L570.68,472.13ZM570.92,472.65 L576.44,462.25M591.92,473.30 L591.92,461.60 L594.68,466.15 L597.44,461.60 L597.44,473.30M601.76,473.30 L601.76,461.60M607.76,473.30 L607.76,461.60M601.76,467.45 L607.76,467.45M612.08,465.50 L618.08,465.50 L612.08,473.30 L618.08,473.30M47.08,500.62 L48.76,498.70 L48.76,509.50M47.08,509.50 L50.68,509.50M58.12,508.78 L59.32,508.78 L59.32,507.58 L58.12,507.58ZM58.12,503.02 L59.32,503.02 L59.32,501.82 L58.12,501.82ZM67.12,509.50 L67.12,498.70 L69.88,502.90 L72.64,498.70 L72.64,509.50M76.96,498.70 L76.96,509.50M82.36,502.30 L76.96,506.50M79.12,504.82 L82.96,509.50M87.28,502.30 L87.28,509.50M87.28,504.10 L89.08,502.30 L92.08,502.30 L93.28,503.50M112.12,498.70 L110.32,501.10 L110.32,507.10 L112.12,509.50M118.72,509.50 L118.72,498.70 L121.48,502.90 L124.24,498.70 L124.24,509.50M128.56,509.50 L128.56,498.70M134.56,509.50 L134.56,498.70M128.56,504.10 L134.56,504.10M138.88,502.30 L144.88,502.30 L138.88,509.50 L144.88,509.50M151.00,498.70 L152.80,501.10 L152.80,507.10 L151.00,509.50M208.00,498.70 L208.00,509.50 L203.20,509.50 L202.00,508.30 L202.00,503.50 L203.20,502.30 L208.00,502.30M212.32,509.50 L217.12,509.50 L218.32,508.30 L218.32,505.30 L217.12,504.10 L218.32,502.90 L218.32,499.90 L217.12,498.70 L212.32,498.70M213.52,509.50 L213.52,498.70M213.52,504.10 L217.12,504.10M47.08,519.00 L48.76,516.97 L48.76,528.40M47.08,528.40 L50.68,528.40M58.12,527.64 L59.32,527.64 L59.32,526.37 L58.12,526.37ZM58.12,521.54 L59.32,521.54 L59.32,520.27 L58.12,520.27ZM87.52,516.97 L87.52,523.95 L94.00,523.95M91.60,516.97 L91.60,528.40M98.32,516.97 L103.00,516.97 L103.60,517.61 L103.60,521.03 L102.64,522.18 L103.84,523.32 L103.84,527.38 L103.00,528.40 L99.04,528.40 L98.44,527.64M102.64,522.18 L100.96,522.18M109.00,519.00 L110.68,516.97 L110.68,528.40M109.00,528.40 L112.60,528.40M119.32,528.27 L120.76,528.27 L120.76,526.75 L119.32,526.75ZM128.80,516.97 L128.80,523.95 L135.28,523.95M132.88,516.97 L132.88,528.40M139.96,519.00 L141.64,516.97 L141.64,528.40M139.96,528.40 L143.56,528.40M169.84,522.68 L175.84,522.68M181.24,519.00 L182.92,516.97 L182.92,528.40M181.24,528.40 L184.84,528.40M191.44,528.40 L195.28,528.40 L196.36,527.26 L196.36,518.11 L195.28,516.97 L191.44,516.97 L190.36,518.11 L190.36,527.26ZM190.60,527.76 L196.12,517.61M206.32,516.97 L201.28,516.97 L201.28,521.67 L205.12,521.67 L206.32,522.81 L206.32,527.13 L205.12,528.40 L202.24,528.40 L201.16,527.38M212.20,528.27 L213.64,528.27 L213.64,526.75 L212.20,526.75ZM222.40,528.40 L226.24,528.40 L227.32,527.26 L227.32,518.11 L226.24,516.97 L222.40,516.97 L221.32,518.11 L221.32,527.26ZM221.56,527.76 L227.08,517.61M237.28,516.97 L232.24,516.97 L232.24,521.67 L236.08,521.67 L237.28,522.81 L237.28,527.13 L236.08,528.40 L233.20,528.40 L232.12,527.38M46.00,536.77 L47.20,534.87 L50.68,534.87 L51.88,536.14 L51.88,538.68 L46.00,546.30 L51.88,546.30M56.68,538.30 L61.36,541.47 L56.68,544.65M87.52,534.87 L87.52,541.85 L94.00,541.85M91.60,534.87 L91.60,546.30M98.32,534.87 L103.00,534.87 L103.60,535.50 L103.60,538.93 L102.64,540.08 L103.84,541.22 L103.84,545.28 L103.00,546.30 L99.04,546.30 L98.44,545.54M102.64,540.08 L100.96,540.08M113.44,540.46 L109.36,540.46 L108.16,539.31 L108.16,536.14 L109.36,534.87 L112.24,534.87 L113.44,536.14 L113.44,541.22 L110.80,546.30M119.32,546.17 L120.76,546.17 L120.76,544.65 L119.32,544.65ZM129.52,546.30 L133.36,546.30 L134.44,545.16 L134.44,536.01 L133.36,534.87 L129.52,534.87 L128.44,536.01 L128.44,545.16ZM128.68,545.66 L134.20,535.50M139.96,536.90 L141.64,534.87 L141.64,546.30M139.96,546.30 L143.56,546.30M190.48,540.58 L196.48,540.58M201.52,534.87 L206.20,534.87 L206.80,535.50 L206.80,538.93 L205.84,540.08 L207.04,541.22 L207.04,545.28 L206.20,546.30 L202.24,546.30 L201.64,545.54M205.84,540.08 L204.16,540.08M212.20,546.17 L213.64,546.17 L213.64,544.65 L212.20,544.65ZM222.52,536.90 L224.20,534.87 L224.20,546.30M222.52,546.30 L226.12,546.30M231.76,536.77 L232.96,534.87 L236.44,534.87 L237.64,536.14 L237.64,538.68 L231.76,546.30 L237.64,546.30M329.40,500.50 L330.60,498.70 L334.08,498.70 L335.28,499.90 L335.28,502.30 L329.40,509.50 L335.28,509.50M341.52,508.78 L342.72,508.78 L342.72,507.58 L341.52,507.58ZM341.52,503.02 L342.72,503.02 L342.72,501.82 L341.52,501.82ZM350.52,509.50 L350.52,498.70 L353.28,502.90 L356.04,498.70 L356.04,509.50M360.36,498.70 L360.36,509.50M365.76,502.30 L360.36,506.50M362.52,504.82 L366.36,509.50M370.68,502.30 L370.68,509.50M370.68,504.10 L372.48,502.30 L375.48,502.30 L376.68,503.50M395.52,498.70 L393.72,501.10 L393.72,507.10 L395.52,509.50M402.12,509.50 L402.12,498.70 L404.88,502.90 L407.64,498.70 L407.64,509.50M411.96,509.50 L411.96,498.70M417.96,509.50 L417.96,498.70M411.96,504.10 L417.96,504.10M422.28,502.30 L428.28,502.30 L422.28,509.50 L428.28,509.50M434.40,498.70 L436.20,501.10 L436.20,507.10 L434.40,509.50M489.20,498.70 L489.20,509.50 L484.40,509.50 L483.20,508.30 L483.20,503.50 L484.40,502.30 L489.20,502.30M493.52,509.50 L498.32,509.50 L499.52,508.30 L499.52,505.30 L498.32,504.10 L499.52,502.90 L499.52,499.90 L498.32,498.70 L493.52,498.70M494.72,509.50 L494.72,498.70M494.72,504.10 L498.32,504.10M399.90,27.42 L401.20,25.55 L404.97,25.55 L406.27,26.80 L406.27,29.30 L399.90,36.80 L406.27,36.80M257.64,477.58 L259.25,475.50 L259.25,487.20M257.64,487.20 L261.09,487.20M616.29,414.80 L617.83,413.20 L617.83,422.20M616.29,422.20 L619.59,422.20M615.48,434.00 L615.48,424.55 L618.24,428.23 L621.00,424.55 L621.00,434.00M626.88,426.23 L628.56,424.55 L628.56,434.00M626.88,434.00 L630.48,434.00" fill="none" stroke="#000" stroke-opacity="0.28" stroke-width="2.1" stroke-linecap="square" stroke-linejoin="miter" stroke-miterlimit="1.6"/>
<path d="M55.28,7.42 L56.96,5.50 L56.96,16.30M55.28,16.30 L58.88,16.30M66.32,15.58 L67.52,15.58 L67.52,14.38 L66.32,14.38ZM66.32,9.82 L67.52,9.82 L67.52,8.62 L66.32,8.62ZM74.84,5.50 L81.44,5.50M78.14,5.50 L78.14,16.30M85.16,9.10 L85.16,16.30M85.16,10.90 L86.96,9.10 L89.96,9.10 L91.16,10.30M96.08,9.10 L100.28,9.10 L101.48,10.30 L101.48,16.30M101.48,12.10 L96.68,12.10 L95.48,13.30 L95.48,15.10 L96.68,16.30 L101.48,16.30M105.80,9.10 L105.80,16.30M105.80,10.30 L107.00,9.10 L110.60,9.10 L111.80,10.30 L111.80,16.30M122.12,9.10 L117.32,9.10 L116.12,10.30 L116.12,11.50 L117.32,12.70 L120.92,12.70 L122.12,13.90 L122.12,15.10 L120.92,16.30 L116.12,16.30M126.44,9.10 L126.44,16.30M126.44,9.70 L127.04,9.10 L128.84,9.10 L129.44,9.70 L129.44,16.30M129.44,9.70 L130.04,9.10 L131.84,9.10 L132.44,9.70 L132.44,16.30M139.76,6.46 L139.76,5.50M137.96,9.10 L139.76,9.10 L139.76,16.30M137.96,16.30 L141.56,16.30M153.08,9.10 L148.28,9.10 L147.08,10.30 L147.08,11.50 L148.28,12.70 L151.88,12.70 L153.08,13.90 L153.08,15.10 L151.88,16.30 L147.08,16.30M163.40,9.10 L158.60,9.10 L157.40,10.30 L157.40,11.50 L158.60,12.70 L162.20,12.70 L163.40,13.90 L163.40,15.10 L162.20,16.30 L157.40,16.30M170.72,6.46 L170.72,5.50M168.92,9.10 L170.72,9.10 L170.72,16.30M168.92,16.30 L172.52,16.30M179.24,16.30 L182.84,16.30 L184.04,15.10 L184.04,10.30 L182.84,9.10 L179.24,9.10 L178.04,10.30 L178.04,15.10ZM188.36,9.10 L188.36,16.30M188.36,10.30 L189.56,9.10 L193.16,9.10 L194.36,10.30 L194.36,16.30M213.76,16.30 L213.76,5.50 L217.00,5.50 L217.96,6.70 L217.96,9.34 L217.00,10.30 L213.76,10.30M213.76,16.30 L216.40,16.30 L219.16,12.70M216.04,10.78 L219.16,16.30M224.20,16.30 L224.20,5.50 L226.96,9.70 L229.72,5.50 L229.72,16.30M243.60,5.50 L243.60,16.30 L249.60,16.30M255.12,16.30 L258.72,16.30 L259.92,15.10 L259.92,10.30 L258.72,9.10 L255.12,9.10 L253.92,10.30 L253.92,15.10ZM270.24,9.10 L265.44,9.10 L264.24,10.30 L264.24,15.10 L265.44,16.30 L270.24,16.30M270.24,9.10 L270.24,18.70 L269.04,19.90 L264.84,19.90M285.36,16.30 L285.36,5.50 L288.12,9.70 L290.88,5.50 L290.88,16.30M295.80,9.10 L300.00,9.10 L301.20,10.30 L301.20,16.30M301.20,12.10 L296.40,12.10 L295.20,13.30 L295.20,15.10 L296.40,16.30 L301.20,16.30M311.52,9.10 L306.72,9.10 L305.52,10.30 L305.52,15.10 L306.72,16.30 L311.52,16.30M311.52,9.10 L311.52,18.70 L310.32,19.90 L306.12,19.90M333.38,7.42 L335.06,5.50 L335.06,16.30M333.38,16.30 L336.98,16.30M343.58,16.30 L347.42,16.30 L348.50,15.22 L348.50,6.58 L347.42,5.50 L343.58,5.50 L342.50,6.58 L342.50,15.22ZM342.74,15.70 L348.26,6.10M354.02,16.18 L355.46,16.18 L355.46,14.74 L354.02,14.74ZM364.22,16.30 L368.06,16.30 L369.14,15.22 L369.14,6.58 L368.06,5.50 L364.22,5.50 L363.14,6.58 L363.14,15.22ZM363.38,15.70 L368.90,6.10M389.90,5.50 L389.90,16.30 L385.10,16.30 L383.90,15.10 L383.90,10.30 L385.10,9.10 L389.90,9.10M394.22,16.30 L399.02,16.30 L400.22,15.10 L400.22,12.10 L399.02,10.90 L400.22,9.70 L400.22,6.70 L399.02,5.50 L394.22,5.50M395.42,16.30 L395.42,5.50M395.42,10.90 L399.02,10.90M404.54,16.30 L410.54,5.50M431.60,16.30 L431.60,5.50 L436.40,5.50 L437.60,6.70 L437.60,9.70 L436.40,10.90 L431.60,10.90M434.00,10.90 L437.60,16.30M441.92,12.70 L447.92,12.70 L447.92,10.30 L446.72,9.10 L443.12,9.10 L441.92,10.30 L441.92,15.10 L443.12,16.30 L447.32,16.30M458.24,6.70 L457.04,5.50 L455.84,5.50 L454.64,6.70 L454.64,16.30M452.84,9.70 L457.64,9.70M494.26,16.30 L498.10,16.30 L499.18,15.22 L499.18,6.58 L498.10,5.50 L494.26,5.50 L493.18,6.58 L493.18,15.22ZM493.42,15.70 L498.94,6.10M504.70,16.18 L506.14,16.18 L506.14,14.74 L504.70,14.74ZM514.90,16.30 L518.74,16.30 L519.82,15.22 L519.82,6.58 L518.74,5.50 L514.90,5.50 L513.82,6.58 L513.82,15.22ZM514.06,15.70 L519.58,6.10M525.22,16.30 L529.06,16.30 L530.14,15.22 L530.14,6.58 L529.06,5.50 L525.22,5.50 L524.14,6.58 L524.14,15.22ZM524.38,15.70 L529.90,6.10M550.90,5.50 L550.90,16.30 L546.10,16.30 L544.90,15.10 L544.90,10.30 L546.10,9.10 L550.90,9.10M555.22,16.30 L560.02,16.30 L561.22,15.10 L561.22,12.10 L560.02,10.90 L561.22,9.70 L561.22,6.70 L560.02,5.50 L555.22,5.50M556.42,16.30 L556.42,5.50M556.42,10.90 L560.02,10.90M597.00,7.30 L595.56,5.50 L591.84,5.50 L590.40,6.94 L590.40,14.86 L591.84,16.30 L595.56,16.30 L597.00,14.50M600.72,7.30 L601.92,5.50 L605.52,5.50 L606.72,6.70 L606.72,9.10 L603.72,11.50 L603.72,13.30M603.72,15.22 L603.72,16.30M54.20,27.10 L55.40,25.30 L58.88,25.30 L60.08,26.50 L60.08,28.90 L54.20,36.10 L60.08,36.10M66.32,35.38 L67.52,35.38 L67.52,34.18 L66.32,34.18ZM66.32,29.62 L67.52,29.62 L67.52,28.42 L66.32,28.42ZM76.64,36.10 L79.04,36.10 L80.84,34.30 L80.84,27.10 L79.04,25.30 L76.64,25.30 L74.84,27.10 L74.84,34.30ZM91.16,26.50 L89.96,25.30 L88.76,25.30 L87.56,26.50 L87.56,36.10M85.76,29.50 L90.56,29.50M101.48,26.50 L100.28,25.30 L99.08,25.30 L97.88,26.50 L97.88,36.10M96.08,29.50 L100.88,29.50M8.40,41.40 L6.96,39.60 L3.24,39.60 L1.80,41.04 L1.80,48.96 L3.24,50.40 L6.96,50.40 L8.40,48.60M12.70,39.60 L12.70,50.40M12.70,44.40 L13.90,43.20 L17.50,43.20 L18.70,44.40 L18.70,50.40M24.68,41.52 L26.36,39.60 L26.36,50.40M24.68,50.40 L28.28,50.40M8.40,64.70 L8.40,75.50 L3.60,75.50 L2.40,74.30 L2.40,69.50 L3.60,68.30 L8.40,68.30M12.72,75.50 L17.52,75.50 L18.72,74.30 L18.72,71.30 L17.52,70.10 L18.72,68.90 L18.72,65.90 L17.52,64.70 L12.72,64.70M13.92,75.50 L13.92,64.70M13.92,70.10 L17.52,70.10M12.00,85.70 L18.00,85.70M23.40,82.22 L25.08,80.30 L25.08,91.10M23.40,91.10 L27.00,91.10M33.60,91.10 L37.44,91.10 L38.52,90.02 L38.52,81.38 L37.44,80.30 L33.60,80.30 L32.52,81.38 L32.52,90.02ZM32.76,90.50 L38.28,80.90M12.00,126.70 L18.00,126.70M22.32,123.10 L23.52,121.30 L27.00,121.30 L28.20,122.50 L28.20,124.90 L22.32,132.10 L28.20,132.10M33.60,132.10 L37.44,132.10 L38.52,131.02 L38.52,122.38 L37.44,121.30 L33.60,121.30 L32.52,122.38 L32.52,131.02ZM32.76,131.50 L38.28,121.90M12.00,167.70 L18.00,167.70M23.04,162.30 L27.72,162.30 L28.32,162.90 L28.32,166.14 L27.36,167.22 L28.56,168.30 L28.56,172.14 L27.72,173.10 L23.76,173.10 L23.16,172.38M27.36,167.22 L25.68,167.22M33.60,173.10 L37.44,173.10 L38.52,172.02 L38.52,163.38 L37.44,162.30 L33.60,162.30 L32.52,163.38 L32.52,172.02ZM32.76,172.50 L38.28,162.90M12.00,208.70 L18.00,208.70M22.56,203.30 L22.56,209.90 L29.04,209.90M26.64,203.30 L26.64,214.10M33.60,214.10 L37.44,214.10 L38.52,213.02 L38.52,204.38 L37.44,203.30 L33.60,203.30 L32.52,204.38 L32.52,213.02ZM32.76,213.50 L38.28,203.90M12.00,249.70 L18.00,249.70M27.84,244.30 L22.80,244.30 L22.80,248.74 L26.64,248.74 L27.84,249.82 L27.84,253.90 L26.64,255.10 L23.76,255.10 L22.68,254.14M33.60,255.10 L37.44,255.10 L38.52,254.02 L38.52,245.38 L37.44,244.30 L33.60,244.30 L32.52,245.38 L32.52,254.02ZM32.76,254.50 L38.28,244.90M12.00,291.70 L18.00,291.70M27.84,286.30 L24.12,286.30 L22.56,288.10 L22.56,295.90 L23.76,297.10 L26.64,297.10 L27.84,295.90 L27.84,292.30 L26.64,291.10 L22.56,291.10M33.60,297.10 L37.44,297.10 L38.52,296.02 L38.52,287.38 L37.44,286.30 L33.60,286.30 L32.52,287.38 L32.52,296.02ZM32.76,296.50 L38.28,286.90M12.00,332.70 L18.00,332.70M22.56,327.30 L28.08,327.30 L28.08,328.50 L24.48,338.10M33.60,338.10 L37.44,338.10 L38.52,337.02 L38.52,328.38 L37.44,327.30 L33.60,327.30 L32.52,328.38 L32.52,337.02ZM32.76,337.50 L38.28,327.90M12.00,373.70 L18.00,373.70M23.76,379.10 L26.64,379.10 L27.84,377.90 L27.84,374.30 L26.64,373.22 L23.76,373.22 L22.56,374.30 L22.56,377.90ZM23.76,373.22 L22.80,372.26 L22.80,369.38 L23.88,368.30 L26.52,368.30 L27.60,369.38 L27.60,372.26 L26.64,373.22M33.60,379.10 L37.44,379.10 L38.52,378.02 L38.52,369.38 L37.44,368.30 L33.60,368.30 L32.52,369.38 L32.52,378.02ZM32.76,378.50 L38.28,368.90M12.00,414.70 L18.00,414.70M27.84,414.58 L23.76,414.58 L22.56,413.50 L22.56,410.50 L23.76,409.30 L26.64,409.30 L27.84,410.50 L27.84,415.30 L25.20,420.10M33.60,420.10 L37.44,420.10 L38.52,419.02 L38.52,410.38 L37.44,409.30 L33.60,409.30 L32.52,410.38 L32.52,419.02ZM32.76,419.50 L38.28,409.90M2.60,445.40 L2.60,437.60 L5.60,434.60 L8.60,437.60 L8.60,445.40M2.60,441.20 L8.60,441.20M12.92,434.60 L12.92,445.40 L17.72,445.40 L18.92,444.20 L18.92,439.40 L17.72,438.20 L12.92,438.20M29.24,438.20 L24.44,438.20 L23.24,439.40 L23.24,440.60 L24.44,441.80 L28.04,441.80 L29.24,443.00 L29.24,444.20 L28.04,445.40 L23.24,445.40M54.00,61.10 L54.00,50.30 L58.80,50.30 L60.00,51.50 L60.00,54.50 L58.80,55.70 L54.00,55.70M56.40,55.70 L60.00,61.10M64.32,61.10 L64.32,50.30 L70.32,50.30M64.32,55.70 L68.52,55.70M80.64,51.50 L79.44,50.30 L75.84,50.30 L74.64,51.50 L74.64,54.50 L75.84,55.70 L79.44,55.70 L80.64,56.90 L80.64,59.90 L79.44,61.10 L75.84,61.10 L74.64,59.90M101.88,52.10 L100.44,50.30 L96.72,50.30 L95.28,51.74 L95.28,59.66 L96.72,61.10 L100.44,61.10 L101.88,59.30M105.60,61.10 L105.60,50.30 L110.40,50.30 L111.60,51.50 L111.60,54.50 L110.40,55.70 L105.60,55.70M116.16,50.30 L116.16,56.90 L122.64,56.90M120.24,50.30 L120.24,61.10M131.76,50.30 L126.72,50.30 L126.72,54.74 L130.56,54.74 L131.76,55.82 L131.76,59.90 L130.56,61.10 L127.68,61.10 L126.60,60.14M137.52,61.10 L141.36,61.10 L142.44,60.02 L142.44,51.38 L141.36,50.30 L137.52,50.30 L136.44,51.38 L136.44,60.02ZM136.68,60.50 L142.20,50.90M146.88,55.70 L152.88,55.70M157.44,50.30 L157.44,56.90 L163.92,56.90M161.52,50.30 L161.52,61.10M168.24,50.30 L172.92,50.30 L173.52,50.90 L173.52,54.14 L172.56,55.22 L173.76,56.30 L173.76,60.14 L172.92,61.10 L168.96,61.10 L168.36,60.38M172.56,55.22 L170.88,55.22M177.84,52.10 L179.04,50.30 L182.52,50.30 L183.72,51.50 L183.72,53.90 L177.84,61.10 L183.72,61.10M188.16,50.30 L188.16,61.10 L191.16,55.70 L194.16,61.10 L194.16,50.30M208.80,52.10 L210.00,50.30 L213.48,50.30 L214.68,51.50 L214.68,53.90 L208.80,61.10 L214.68,61.10M219.12,61.10 L219.12,50.30 L223.92,50.30 L225.12,51.50 L225.12,54.50 L223.92,55.70 L219.12,55.70M229.68,50.30 L229.68,56.90 L236.16,56.90M233.76,50.30 L233.76,61.10M239.76,55.70 L245.76,55.70M250.32,50.30 L250.32,56.90 L256.80,56.90M254.40,50.30 L254.40,61.10M265.92,50.30 L260.88,50.30 L260.88,54.74 L264.72,54.74 L265.92,55.82 L265.92,59.90 L264.72,61.10 L261.84,61.10 L260.76,60.14M271.68,61.10 L275.52,61.10 L276.60,60.02 L276.60,51.38 L275.52,50.30 L271.68,50.30 L270.60,51.38 L270.60,60.02ZM270.84,60.50 L276.36,50.90M281.04,50.30 L281.04,61.10 L284.04,55.70 L287.04,61.10 L287.04,50.30M54.00,79.50 L54.00,68.70 L58.80,68.70 L60.00,69.90 L60.00,72.90 L58.80,74.10 L54.00,74.10M56.40,74.10 L60.00,79.50M64.32,75.90 L70.32,75.90 L70.32,73.50 L69.12,72.30 L65.52,72.30 L64.32,73.50 L64.32,78.30 L65.52,79.50 L69.72,79.50M77.04,68.70 L77.04,78.30 L78.24,79.50 L80.04,79.50 L80.64,78.90M74.64,72.30 L80.04,72.30M84.96,72.30 L84.96,78.30 L86.16,79.50 L89.76,79.50 L90.96,78.30M90.96,72.30 L90.96,79.50M95.28,72.30 L95.28,79.50M95.28,73.50 L96.48,72.30 L100.08,72.30 L101.28,73.50 L101.28,79.50M105.60,75.90 L111.60,75.90 L111.60,73.50 L110.40,72.30 L106.80,72.30 L105.60,73.50 L105.60,78.30 L106.80,79.50 L111.00,79.50M121.92,68.70 L121.92,79.50 L117.12,79.50 L115.92,78.30 L115.92,73.50 L117.12,72.30 L121.92,72.30M136.56,68.70 L136.56,79.50 L141.36,79.50 L142.56,78.30 L142.56,73.50 L141.36,72.30 L136.56,72.30M146.88,72.30 L149.88,79.50M152.88,72.30 L148.68,83.10 L147.48,83.10M173.52,69.90 L172.32,68.70 L168.72,68.70 L167.52,69.90 L167.52,72.90 L168.72,74.10 L172.32,74.10 L173.52,75.30 L173.52,78.30 L172.32,79.50 L168.72,79.50 L167.52,78.30M177.84,79.50 L177.84,68.70 L182.64,68.70 L183.84,69.90 L183.84,72.90 L182.64,74.10 L177.84,74.10M188.16,70.50 L189.36,68.70 L192.84,68.70 L194.04,69.90 L194.04,72.30 L188.16,79.50 L194.04,79.50M198.48,68.70 L204.48,79.50M198.48,79.50 L204.48,68.70M210.00,68.70 L213.60,68.70M211.80,68.70 L211.80,79.50M210.00,79.50 L213.60,79.50M219.60,79.50 L219.60,68.70 L222.36,72.90 L225.12,68.70 L225.12,79.50M409.30,52.30 L407.86,50.50 L404.14,50.50 L402.70,51.94 L402.70,59.86 L404.14,61.30 L407.86,61.30 L409.30,59.50M413.02,50.50 L413.02,61.30M413.02,55.30 L414.22,54.10 L417.82,54.10 L419.02,55.30 L419.02,61.30M424.42,52.42 L426.10,50.50 L426.10,61.30M424.42,61.30 L428.02,61.30M435.46,60.58 L436.66,60.58 L436.66,59.38 L435.46,59.38ZM435.46,54.82 L436.66,54.82 L436.66,53.62 L435.46,53.62ZM444.46,61.30 L444.46,50.50 L447.22,54.70 L449.98,50.50 L449.98,61.30M454.30,50.50 L454.30,61.30M459.70,54.10 L454.30,58.30M456.46,56.62 L460.30,61.30M464.62,54.10 L464.62,61.30M464.62,55.90 L466.42,54.10 L469.42,54.10 L470.62,55.30M474.94,52.30 L476.14,50.50 L479.62,50.50 L480.82,51.70 L480.82,54.10 L474.94,61.30 L480.82,61.30M505.24,50.50 L505.24,57.10 L511.72,57.10M509.32,50.50 L509.32,61.30M516.04,50.50 L520.72,50.50 L521.32,51.10 L521.32,54.34 L520.36,55.42 L521.56,56.50 L521.56,60.34 L520.72,61.30 L516.76,61.30 L516.16,60.58M520.36,55.42 L518.68,55.42M531.16,55.78 L527.08,55.78 L525.88,54.70 L525.88,51.70 L527.08,50.50 L529.96,50.50 L531.16,51.70 L531.16,56.50 L528.52,61.30M537.04,61.18 L538.48,61.18 L538.48,59.74 L537.04,59.74ZM547.24,61.30 L551.08,61.30 L552.16,60.22 L552.16,51.58 L551.08,50.50 L547.24,50.50 L546.16,51.58 L546.16,60.22ZM546.40,60.70 L551.92,51.10M557.68,52.42 L559.36,50.50 L559.36,61.30M557.68,61.30 L561.28,61.30M566.92,52.30 L568.12,50.50 L571.60,50.50 L572.80,51.70 L572.80,54.10 L566.92,61.30 L572.80,61.30M588.04,61.30 L588.04,50.50 L590.80,54.70 L593.56,50.50 L593.56,61.30M597.88,61.30 L597.88,50.50M603.88,61.30 L603.88,50.50M597.88,55.90 L603.88,55.90M608.20,54.10 L614.20,54.10 L608.20,61.30 L614.20,61.30M512.50,74.10 L518.50,74.10M523.54,68.70 L528.22,68.70 L528.82,69.30 L528.82,72.54 L527.86,73.62 L529.06,74.70 L529.06,78.54 L528.22,79.50 L524.26,79.50 L523.66,78.78M527.86,73.62 L526.18,73.62M534.22,79.38 L535.66,79.38 L535.66,77.94 L534.22,77.94ZM544.54,70.62 L546.22,68.70 L546.22,79.50M544.54,79.50 L548.14,79.50M553.78,70.50 L554.98,68.70 L558.46,68.70 L559.66,69.90 L559.66,72.30 L553.78,79.50 L559.66,79.50M580.42,68.70 L580.42,79.50 L575.62,79.50 L574.42,78.30 L574.42,73.50 L575.62,72.30 L580.42,72.30M584.74,79.50 L589.54,79.50 L590.74,78.30 L590.74,75.30 L589.54,74.10 L590.74,72.90 L590.74,69.90 L589.54,68.70 L584.74,68.70M585.94,79.50 L585.94,68.70M585.94,74.10 L589.54,74.10M409.30,93.40 L407.86,91.60 L404.14,91.60 L402.70,93.04 L402.70,100.96 L404.14,102.40 L407.86,102.40 L409.30,100.60M413.02,91.60 L413.02,102.40M413.02,96.40 L414.22,95.20 L417.82,95.20 L419.02,96.40 L419.02,102.40M423.34,93.40 L424.54,91.60 L428.02,91.60 L429.22,92.80 L429.22,95.20 L423.34,102.40 L429.22,102.40M435.46,101.68 L436.66,101.68 L436.66,100.48 L435.46,100.48ZM435.46,95.92 L436.66,95.92 L436.66,94.72 L435.46,94.72ZM444.46,102.40 L444.46,91.60 L447.22,95.80 L449.98,91.60 L449.98,102.40M454.30,91.60 L454.30,102.40M459.70,95.20 L454.30,99.40M456.46,97.72 L460.30,102.40M464.62,95.20 L464.62,102.40M464.62,97.00 L466.42,95.20 L469.42,95.20 L470.62,96.40M475.18,91.60 L475.18,98.20 L481.66,98.20M479.26,91.60 L479.26,102.40M505.24,91.60 L505.24,98.20 L511.72,98.20M509.32,91.60 L509.32,102.40M516.04,91.60 L520.72,91.60 L521.32,92.20 L521.32,95.44 L520.36,96.52 L521.56,97.60 L521.56,101.44 L520.72,102.40 L516.76,102.40 L516.16,101.68M520.36,96.52 L518.68,96.52M531.16,96.88 L527.08,96.88 L525.88,95.80 L525.88,92.80 L527.08,91.60 L529.96,91.60 L531.16,92.80 L531.16,97.60 L528.52,102.40M537.04,102.28 L538.48,102.28 L538.48,100.84 L537.04,100.84ZM546.52,91.60 L546.52,98.20 L553.00,98.20M550.60,91.60 L550.60,102.40M556.60,93.40 L557.80,91.60 L561.28,91.60 L562.48,92.80 L562.48,95.20 L556.60,102.40 L562.48,102.40M572.44,91.60 L567.40,91.60 L567.40,96.04 L571.24,96.04 L572.44,97.12 L572.44,101.20 L571.24,102.40 L568.36,102.40 L567.28,101.44M588.04,102.40 L588.04,91.60 L590.80,95.80 L593.56,91.60 L593.56,102.40M597.88,102.40 L597.88,91.60M603.88,102.40 L603.88,91.60M597.88,97.00 L603.88,97.00M608.20,95.20 L614.20,95.20 L608.20,102.40 L614.20,102.40M512.50,114.90 L518.50,114.90M523.06,109.50 L528.58,109.50 L528.58,110.70 L524.98,120.30M534.22,120.18 L535.66,120.18 L535.66,118.74 L534.22,118.74ZM548.98,114.78 L544.90,114.78 L543.70,113.70 L543.70,110.70 L544.90,109.50 L547.78,109.50 L548.98,110.70 L548.98,115.50 L546.34,120.30M559.30,109.50 L554.26,109.50 L554.26,113.94 L558.10,113.94 L559.30,115.02 L559.30,119.10 L558.10,120.30 L555.22,120.30 L554.14,119.34M580.42,109.50 L580.42,120.30 L575.62,120.30 L574.42,119.10 L574.42,114.30 L575.62,113.10 L580.42,113.10M584.74,120.30 L589.54,120.30 L590.74,119.10 L590.74,116.10 L589.54,114.90 L590.74,113.70 L590.74,110.70 L589.54,109.50 L584.74,109.50M585.94,120.30 L585.94,109.50M585.94,114.90 L589.54,114.90M51.80,463.55 L50.36,461.60 L46.64,461.60 L45.20,463.16 L45.20,471.74 L46.64,473.30 L50.36,473.30 L51.80,471.35M55.52,469.40 L61.52,469.40 L61.52,466.80 L60.32,465.50 L56.72,465.50 L55.52,466.80 L55.52,472.00 L56.72,473.30 L60.92,473.30M65.84,465.50 L65.84,473.30M65.84,466.80 L67.04,465.50 L70.64,465.50 L71.84,466.80 L71.84,473.30M78.56,461.60 L78.56,472.00 L79.76,473.30 L81.56,473.30 L82.16,472.65M76.16,465.50 L81.56,465.50M86.48,469.40 L92.48,469.40 L92.48,466.80 L91.28,465.50 L87.68,465.50 L86.48,466.80 L86.48,472.00 L87.68,473.30 L91.88,473.30M96.80,465.50 L96.80,473.30M96.80,467.45 L98.60,465.50 L101.60,465.50 L102.80,466.80M117.68,461.60 L117.68,468.75 L124.16,468.75M121.76,461.60 L121.76,473.30M128.48,461.60 L133.16,461.60 L133.76,462.25 L133.76,465.76 L132.80,466.93 L134.00,468.10 L134.00,472.26 L133.16,473.30 L129.20,473.30 L128.60,472.52M132.80,466.93 L131.12,466.93M143.60,461.60 L138.56,461.60 L138.56,466.41 L142.40,466.41 L143.60,467.58 L143.60,472.00 L142.40,473.30 L139.52,473.30 L138.44,472.26M149.48,473.17 L150.92,473.17 L150.92,471.61 L149.48,471.61ZM159.68,473.30 L163.52,473.30 L164.60,472.13 L164.60,462.77 L163.52,461.60 L159.68,461.60 L158.60,462.77 L158.60,472.13ZM158.84,472.65 L164.36,462.25M170.00,473.30 L173.84,473.30 L174.92,472.13 L174.92,462.77 L173.84,461.60 L170.00,461.60 L168.92,462.77 L168.92,472.13ZM169.16,472.65 L174.68,462.25M180.32,473.30 L184.16,473.30 L185.24,472.13 L185.24,462.77 L184.16,461.60 L180.32,461.60 L179.24,462.77 L179.24,472.13ZM179.48,472.65 L185.00,462.25M200.48,473.30 L200.48,461.60 L203.24,466.15 L206.00,461.60 L206.00,473.30M210.32,473.30 L210.32,461.60M216.32,473.30 L216.32,461.60M210.32,467.45 L216.32,467.45M220.64,465.50 L226.64,465.50 L220.64,473.30 L226.64,473.30M473.60,462.90 L472.40,461.60 L468.80,461.60 L467.60,462.90 L467.60,466.15 L468.80,467.45 L472.40,467.45 L473.60,468.75 L473.60,472.00 L472.40,473.30 L468.80,473.30 L467.60,472.00M477.92,465.50 L477.92,477.20M477.92,465.50 L482.72,465.50 L483.92,466.80 L483.92,472.00 L482.72,473.30 L477.92,473.30M488.84,465.50 L493.04,465.50 L494.24,466.80 L494.24,473.30M494.24,468.75 L489.44,468.75 L488.24,470.05 L488.24,472.00 L489.44,473.30 L494.24,473.30M498.56,465.50 L498.56,473.30M498.56,466.80 L499.76,465.50 L503.36,465.50 L504.56,466.80 L504.56,473.30M519.92,461.60 L524.60,461.60 L525.20,462.25 L525.20,465.76 L524.24,466.93 L525.44,468.10 L525.44,472.26 L524.60,473.30 L520.64,473.30 L520.04,472.52M524.24,466.93 L522.56,466.93M530.48,473.30 L534.32,473.30 L535.40,472.13 L535.40,462.77 L534.32,461.60 L530.48,461.60 L529.40,462.77 L529.40,472.13ZM529.64,472.65 L535.16,462.25M540.92,473.17 L542.36,473.17 L542.36,471.61 L540.92,471.61ZM551.12,473.30 L554.96,473.30 L556.04,472.13 L556.04,462.77 L554.96,461.60 L551.12,461.60 L550.04,462.77 L550.04,472.13ZM550.28,472.65 L555.80,462.25M561.44,473.30 L565.28,473.30 L566.36,472.13 L566.36,462.77 L565.28,461.60 L561.44,461.60 L560.36,462.77 L560.36,472.13ZM560.60,472.65 L566.12,462.25M571.76,473.30 L575.60,473.30 L576.68,472.13 L576.68,462.77 L575.60,461.60 L571.76,461.60 L570.68,462.77 L570.68,472.13ZM570.92,472.65 L576.44,462.25M591.92,473.30 L591.92,461.60 L594.68,466.15 L597.44,461.60 L597.44,473.30M601.76,473.30 L601.76,461.60M607.76,473.30 L607.76,461.60M601.76,467.45 L607.76,467.45M612.08,465.50 L618.08,465.50 L612.08,473.30 L618.08,473.30M47.08,500.62 L48.76,498.70 L48.76,509.50M47.08,509.50 L50.68,509.50M58.12,508.78 L59.32,508.78 L59.32,507.58 L58.12,507.58ZM58.12,503.02 L59.32,503.02 L59.32,501.82 L58.12,501.82ZM67.12,509.50 L67.12,498.70 L69.88,502.90 L72.64,498.70 L72.64,509.50M76.96,498.70 L76.96,509.50M82.36,502.30 L76.96,506.50M79.12,504.82 L82.96,509.50M87.28,502.30 L87.28,509.50M87.28,504.10 L89.08,502.30 L92.08,502.30 L93.28,503.50M112.12,498.70 L110.32,501.10 L110.32,507.10 L112.12,509.50M118.72,509.50 L118.72,498.70 L121.48,502.90 L124.24,498.70 L124.24,509.50M128.56,509.50 L128.56,498.70M134.56,509.50 L134.56,498.70M128.56,504.10 L134.56,504.10M138.88,502.30 L144.88,502.30 L138.88,509.50 L144.88,509.50M151.00,498.70 L152.80,501.10 L152.80,507.10 L151.00,509.50M208.00,498.70 L208.00,509.50 L203.20,509.50 L202.00,508.30 L202.00,503.50 L203.20,502.30 L208.00,502.30M212.32,509.50 L217.12,509.50 L218.32,508.30 L218.32,505.30 L217.12,504.10 L218.32,502.90 L218.32,499.90 L217.12,498.70 L212.32,498.70M213.52,509.50 L213.52,498.70M213.52,504.10 L217.12,504.10M47.08,519.00 L48.76,516.97 L48.76,528.40M47.08,528.40 L50.68,528.40M58.12,527.64 L59.32,527.64 L59.32,526.37 L58.12,526.37ZM58.12,521.54 L59.32,521.54 L59.32,520.27 L58.12,520.27ZM87.52,516.97 L87.52,523.95 L94.00,523.95M91.60,516.97 L91.60,528.40M98.32,516.97 L103.00,516.97 L103.60,517.61 L103.60,521.03 L102.64,522.18 L103.84,523.32 L103.84,527.38 L103.00,528.40 L99.04,528.40 L98.44,527.64M102.64,522.18 L100.96,522.18M109.00,519.00 L110.68,516.97 L110.68,528.40M109.00,528.40 L112.60,528.40M119.32,528.27 L120.76,528.27 L120.76,526.75 L119.32,526.75ZM128.80,516.97 L128.80,523.95 L135.28,523.95M132.88,516.97 L132.88,528.40M139.96,519.00 L141.64,516.97 L141.64,528.40M139.96,528.40 L143.56,528.40M169.84,522.68 L175.84,522.68M181.24,519.00 L182.92,516.97 L182.92,528.40M181.24,528.40 L184.84,528.40M191.44,528.40 L195.28,528.40 L196.36,527.26 L196.36,518.11 L195.28,516.97 L191.44,516.97 L190.36,518.11 L190.36,527.26ZM190.60,527.76 L196.12,517.61M206.32,516.97 L201.28,516.97 L201.28,521.67 L205.12,521.67 L206.32,522.81 L206.32,527.13 L205.12,528.40 L202.24,528.40 L201.16,527.38M212.20,528.27 L213.64,528.27 L213.64,526.75 L212.20,526.75ZM222.40,528.40 L226.24,528.40 L227.32,527.26 L227.32,518.11 L226.24,516.97 L222.40,516.97 L221.32,518.11 L221.32,527.26ZM221.56,527.76 L227.08,517.61M237.28,516.97 L232.24,516.97 L232.24,521.67 L236.08,521.67 L237.28,522.81 L237.28,527.13 L236.08,528.40 L233.20,528.40 L232.12,527.38M46.00,536.77 L47.20,534.87 L50.68,534.87 L51.88,536.14 L51.88,538.68 L46.00,546.30 L51.88,546.30M56.68,538.30 L61.36,541.47 L56.68,544.65M87.52,534.87 L87.52,541.85 L94.00,541.85M91.60,534.87 L91.60,546.30M98.32,534.87 L103.00,534.87 L103.60,535.50 L103.60,538.93 L102.64,540.08 L103.84,541.22 L103.84,545.28 L103.00,546.30 L99.04,546.30 L98.44,545.54M102.64,540.08 L100.96,540.08M113.44,540.46 L109.36,540.46 L108.16,539.31 L108.16,536.14 L109.36,534.87 L112.24,534.87 L113.44,536.14 L113.44,541.22 L110.80,546.30M119.32,546.17 L120.76,546.17 L120.76,544.65 L119.32,544.65ZM129.52,546.30 L133.36,546.30 L134.44,545.16 L134.44,536.01 L133.36,534.87 L129.52,534.87 L128.44,536.01 L128.44,545.16ZM128.68,545.66 L134.20,535.50M139.96,536.90 L141.64,534.87 L141.64,546.30M139.96,546.30 L143.56,546.30M190.48,540.58 L196.48,540.58M201.52,534.87 L206.20,534.87 L206.80,535.50 L206.80,538.93 L205.84,540.08 L207.04,541.22 L207.04,545.28 L206.20,546.30 L202.24,546.30 L201.64,545.54M205.84,540.08 L204.16,540.08M212.20,546.17 L213.64,546.17 L213.64,544.65 L212.20,544.65ZM222.52,536.90 L224.20,534.87 L224.20,546.30M222.52,546.30 L226.12,546.30M231.76,536.77 L232.96,534.87 L236.44,534.87 L237.64,536.14 L237.64,538.68 L231.76,546.30 L237.64,546.30M329.40,500.50 L330.60,498.70 L334.08,498.70 L335.28,499.90 L335.28,502.30 L329.40,509.50 L335.28,509.50M341.52,508.78 L342.72,508.78 L342.72,507.58 L341.52,507.58ZM341.52,503.02 L342.72,503.02 L342.72,501.82 L341.52,501.82ZM350.52,509.50 L350.52,498.70 L353.28,502.90 L356.04,498.70 L356.04,509.50M360.36,498.70 L360.36,509.50M365.76,502.30 L360.36,506.50M362.52,504.82 L366.36,509.50M370.68,502.30 L370.68,509.50M370.68,504.10 L372.48,502.30 L375.48,502.30 L376.68,503.50M395.52,498.70 L393.72,501.10 L393.72,507.10 L395.52,509.50M402.12,509.50 L402.12,498.70 L404.88,502.90 L407.64,498.70 L407.64,509.50M411.96,509.50 L411.96,498.70M417.96,509.50 L417.96,498.70M411.96,504.10 L417.96,504.10M422.28,502.30 L428.28,502.30 L422.28,509.50 L428.28,509.50M434.40,498.70 L436.20,501.10 L436.20,507.10 L434.40,509.50M489.20,498.70 L489.20,509.50 L484.40,509.50 L483.20,508.30 L483.20,503.50 L484.40,502.30 L489.20,502.30M493.52,509.50 L498.32,509.50 L499.52,508.30 L499.52,505.30 L498.32,504.10 L499.52,502.90 L499.52,499.90 L498.32,498.70 L493.52,498.70M494.72,509.50 L494.72,498.70M494.72,504.10 L498.32,504.10M399.90,27.42 L401.20,25.55 L404.97,25.55 L406.27,26.80 L406.27,29.30 L399.90,36.80 L406.27,36.80M257.64,477.58 L259.25,475.50 L259.25,487.20M257.64,487.20 L261.09,487.20M616.29,414.80 L617.83,413.20 L617.83,422.20M616.29,422.20 L619.59,422.20M615.48,434.00 L615.48,424.55 L618.24,428.23 L621.00,424.55 L621.00,434.00M626.88,426.23 L628.56,424.55 L628.56,434.00M626.88,434.00 L630.48,434.00" fill="none" stroke="#000" stroke-width="1" stroke-linecap="square" stroke-linejoin="miter" stroke-miterlimit="1.6" shape-rendering="crispEdges"/>
</svg>
</body></html>
